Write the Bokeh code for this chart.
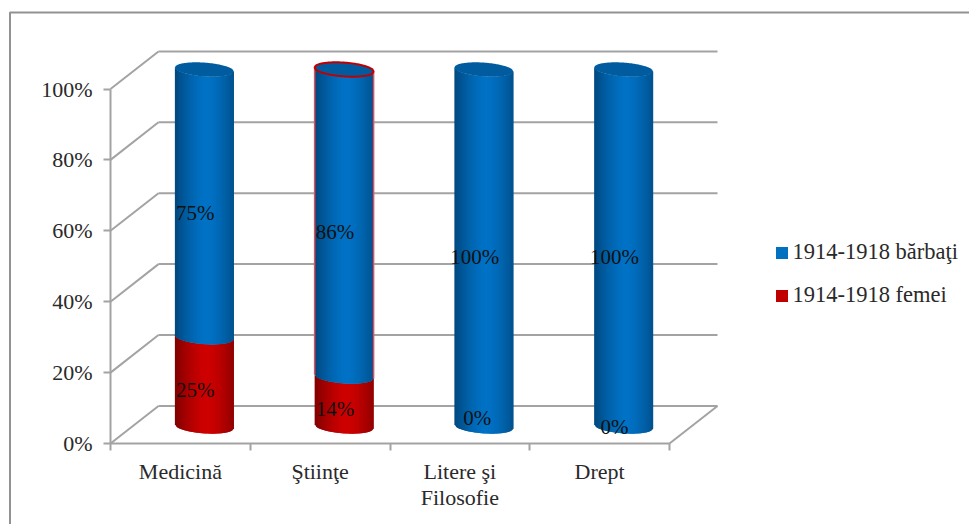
from math import sqrt, nan

from bokeh.core.properties import value
from bokeh.embed import file_html
from bokeh.models import FixedTicker, Legend, LegendItem, PrintfTickFormatter, Range1d
from bokeh.plotting import figure
from bokeh.resources import INLINE

categories = ["Medicină", "Ştiinţe", "Litere şi\nFilosofie", "Drept"]
men = [75, 86, 100, 100]
women = [25, 14, 0, 0]
men_name = "1914-1918 bărbaţi"
women_name = "1914-1918 femei"
percent_ticks = [0, 20, 40, 60, 80, 100]

SERIF = "Liberation Serif"
GRID = "#a3a3a3"
FRAME = "#929292"
TEXT = "#2a2a2a"
BLUE_MID, BLUE_EDGE = (0, 114, 198), (0, 72, 126)
RED_MID, RED_EDGE = (206, 0, 0), (128, 0, 0)
BLUE_CAP = "#005c9e"
OUTLINE = "#c00000"

# Scale of the chart box, in pixels per category and per percentage point.
PX_PER_CAT, PX_PER_PCT = 139.75, 3.545

# Oblique projection of the chart box: the back wall sits up and to the right.
WALL_DX, WALL_DY = 0.3435, 10.6
BAR_DX, BAR_DY = 0.1717, 4.8
BAR_STRETCH = 1.007
RADIUS, RISE, TILT = 0.211, 1.95, 0.56
LABEL_DX, LABEL_DY = 0.107, 2.6
# Zero-height labels are lifted by hand so they stay on the cylinder base.
zero_label_lift = [0, 0, 4.6, 2.0]

p = figure(width=969, height=524, output_backend="svg", toolbar_location=None,
           x_range=Range1d(-110 / PX_PER_CAT, 859 / PX_PER_CAT),
           y_range=Range1d(-81 / PX_PER_PCT, 443 / PX_PER_PCT),
           min_border_left=0, min_border_bottom=0, min_border_top=0,
           min_border_right=0)
p.outline_line_color = None
p.grid.visible = False
p.background_fill_color = "white"
p.border_fill_color = "white"

n = len(categories)

# Frame around the chart area, open at the window's right and bottom edges.
p.line(x=[859 / PX_PER_CAT, -100.5 / PX_PER_CAT, -100.5 / PX_PER_CAT],
       y=[431 / PX_PER_PCT, 431 / PX_PER_PCT, -81 / PX_PER_PCT],
       line_color=FRAME, line_width=2)

# Back wall, left wall and floor.
p.segment(x0=[WALL_DX] * 6, x1=[n + WALL_DX] * 6,
          y0=[t + WALL_DY for t in percent_ticks],
          y1=[t + WALL_DY for t in percent_ticks],
          line_color=GRID, line_width=2)
p.segment(x0=[0] * 6, x1=[WALL_DX] * 6, y0=percent_ticks,
          y1=[t + WALL_DY for t in percent_ticks],
          line_color=GRID, line_width=2)
p.segment(x0=[n], x1=[n + WALL_DX], y0=[0], y1=[WALL_DY],
          line_color=GRID, line_width=2)


def to_y(pct):
    return pct * BAR_STRETCH + BAR_DY


def front_curve(u, pct):
    return to_y(pct) - TILT * u - RISE * sqrt(max(0.0, 1 - u * u))


def shade(u, mid, edge):
    # The light catches slightly right of centre; the rims fall off to dark.
    k = min(1.0, (abs(u - 0.08) / 1.08) ** 1.5)
    return "#%02x%02x%02x" % tuple(round(a + (b - a) * k) for a, b in zip(mid, edge))


def draw_cylinder_part(cx, low, high, mid, edge, strips=40):
    # Each strip runs under its right neighbour so no seams show between them.
    xs, ys, colors = [], [], []
    for i in range(strips):
        u0 = -1 + 2 * i / strips
        u1 = min(1.0, -1 + 2 * (i + 2) / strips)
        x0, x1 = cx + u0 * RADIUS, cx + u1 * RADIUS
        xs.append([x0, x1, x1, x0])
        ys.append([front_curve(u0, low), front_curve(u1, low),
                   front_curve(u1, high), front_curve(u0, high)])
        colors.append(shade(u0 + 1 / strips, mid, edge))
    p.patches(xs, ys, fill_color=colors, line_color=None)


def draw_cap(cx, pct, line_color=None, line_width=0):
    steps = 60
    us = [-1 + 2 * i / steps for i in range(steps + 1)]
    xs = [cx + u * RADIUS for u in us] + [cx + u * RADIUS for u in reversed(us)]
    ys = [to_y(pct) - TILT * u - RISE * sqrt(max(0.0, 1 - u * u)) for u in us]
    ys += [to_y(pct) - TILT * u + RISE * sqrt(max(0.0, 1 - u * u)) for u in reversed(us)]
    p.patch(xs, ys, fill_color=BLUE_CAP, line_color=line_color, line_width=line_width)


for i in range(n):
    cx = i + 0.5 + BAR_DX
    w, m = women[i], men[i]
    if w > 0:
        draw_cylinder_part(cx, 0, w, RED_MID, RED_EDGE)
    draw_cylinder_part(cx, w, w + m, BLUE_MID, BLUE_EDGE)
    # Only the Ştiinţe men segment carries a red outline.
    outlined = i == 1
    if outlined:
        for side in (-1, 1):
            p.line([cx + side * RADIUS] * 2,
                   [front_curve(side, w), front_curve(side, w + m)],
                   line_color="#e0505a", line_width=1.5)
    draw_cap(cx, w + m, OUTLINE if outlined else None, 2 if outlined else 0)

# Percentage labels.
lx, ly, lt = [], [], []
for i in range(n):
    for val, base in ((women[i], 0), (men[i], women[i])):
        lx.append(i + 0.5 + LABEL_DX + (0.018 if val == 0 and i == 2 else 0))
        ly.append(base + val / 2 + LABEL_DY + (zero_label_lift[i] if val == 0 else 0))
        lt.append(f"{val}%")
p.text(lx, ly, text=lt, text_font=value(SERIF), text_font_size="21px",
       text_color="#111111", text_align="center", text_baseline="middle")

# Value axis, pinned to the front-left edge of the box.
ya = p.yaxis[0]
ya.fixed_location = 0
ya.ticker = FixedTicker(ticks=percent_ticks)
ya.formatter = PrintfTickFormatter(format="%d%%")
ya.bounds = (0, 100)
ya.axis_line_color = GRID
ya.axis_line_width = 2
ya.major_tick_line_color = GRID
ya.major_tick_line_width = 2
ya.major_tick_in = 0
ya.major_tick_out = 7
ya.minor_tick_line_color = None
ya.major_label_standoff = 11
ya.major_label_text_font = SERIF
ya.major_label_text_font_size = "22px"
ya.major_label_text_color = TEXT

# Category axis: labels centred between ticks drawn at the boundaries.
xa = p.xaxis[0]
xa.fixed_location = 0
xa.ticker = FixedTicker(ticks=[i + 0.5 for i in range(n)],
                        minor_ticks=list(range(n + 1)))
xa.major_label_overrides = {i + 0.5: c for i, c in enumerate(categories)}
xa.bounds = (0, n)
xa.axis_line_color = GRID
xa.axis_line_width = 2
xa.major_tick_line_color = None
xa.major_tick_out = 0
xa.major_tick_in = 0
xa.minor_tick_line_color = GRID
xa.minor_tick_line_width = 2
xa.minor_tick_out = 7
xa.minor_tick_in = 0
xa.major_label_standoff = 8
xa.major_label_text_font = SERIF
xa.major_label_text_font_size = "22px"
xa.major_label_text_line_height = 1.05
xa.major_label_text_color = TEXT

# Legend swatches come from empty quads so the entries keep their own colours.
men_key = p.quad(left=[nan], right=[nan], top=[nan], bottom=[nan],
                 fill_color="#0070c0", line_color=None)
women_key = p.quad(left=[nan], right=[nan], top=[nan], bottom=[nan],
                   fill_color="#c00000", line_color=None)
legend = Legend(items=[LegendItem(label=men_name, renderers=[men_key]),
                       LegendItem(label=women_name, renderers=[women_key])],
                location=(773.5, 216), orientation="vertical",
                glyph_width=15, glyph_height=15, label_standoff=4, spacing=17,
                padding=0, margin=0, border_line_color=None,
                background_fill_alpha=0,
                label_text_font=SERIF, label_text_font_size="22.5px",
                label_text_color=TEXT)
p.add_layout(legend)

open("out.html", "w").write(file_html(p, INLINE))
